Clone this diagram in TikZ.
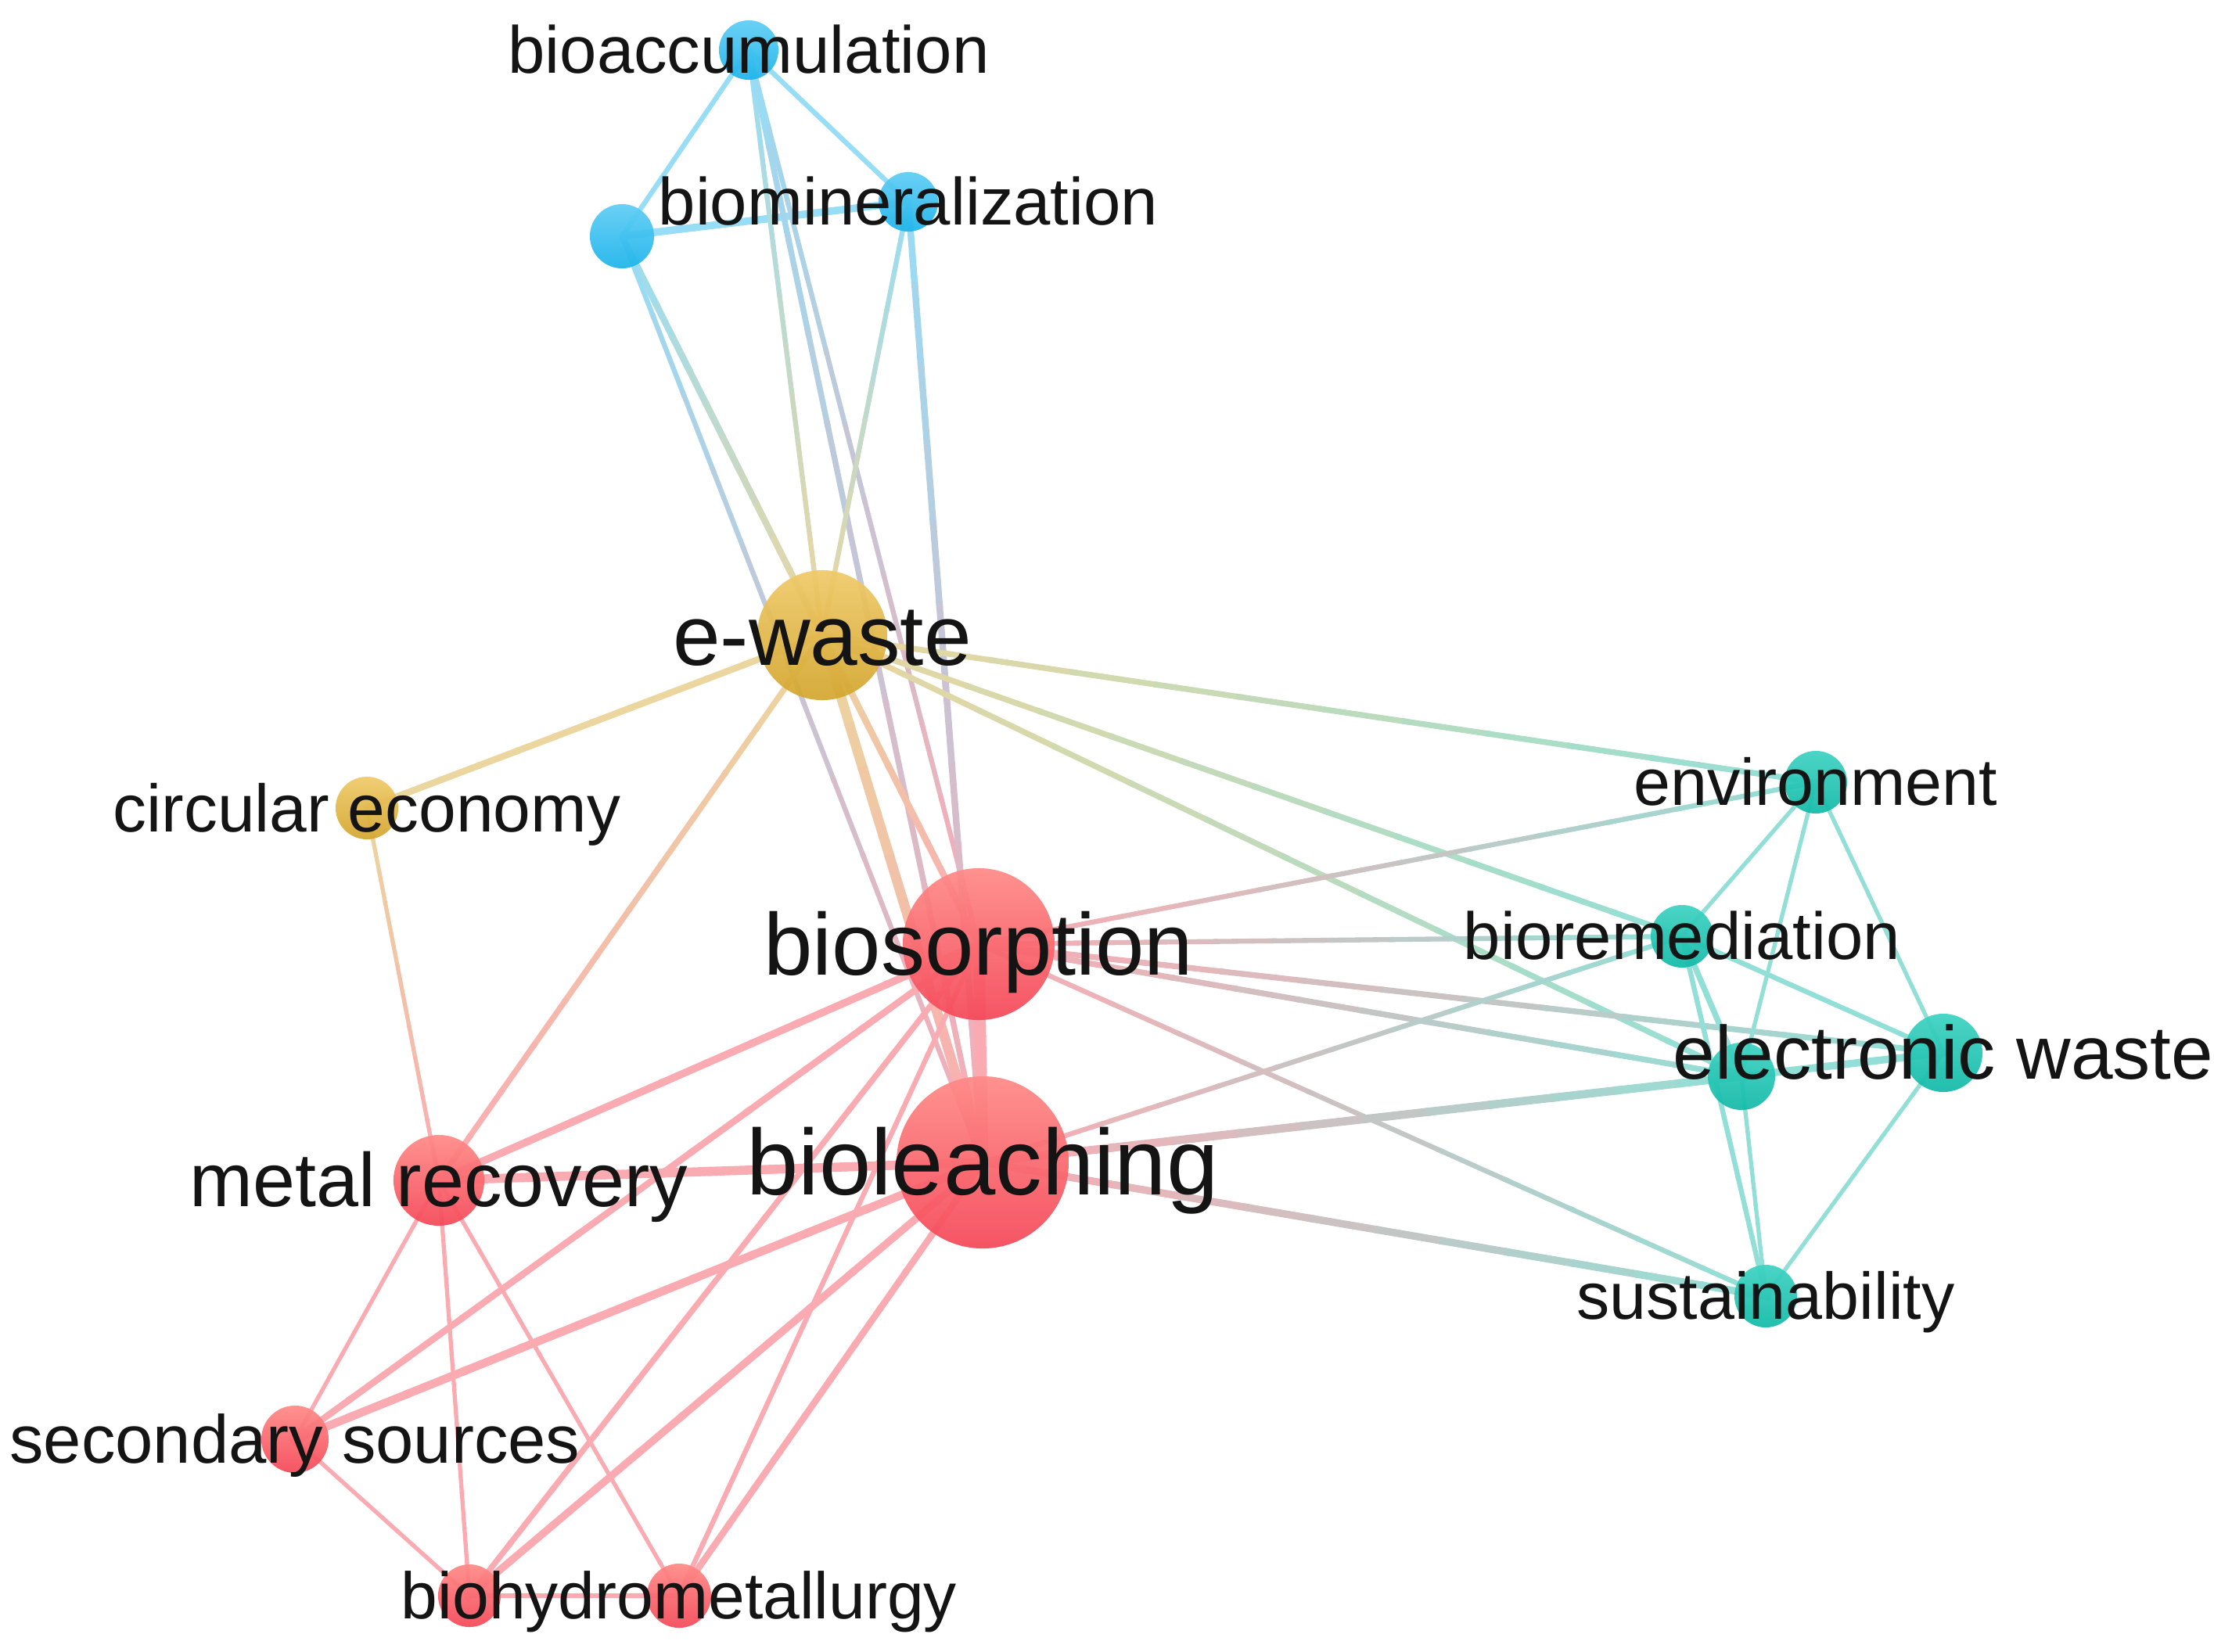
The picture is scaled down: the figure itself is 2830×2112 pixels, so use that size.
\documentclass[tikz,border=0pt]{standalone}
\usepackage{fontspec}
\setmainfont{Liberation Sans}
\usetikzlibrary{calc}
\pgfdeclarelayer{kwbg}
\pgfdeclarelayer{kwedges}
\pgfsetlayers{kwbg,kwedges,main}
\definecolor{bluec}{RGB}{28,180,234}
\definecolor{bluectop}{RGB}{95,205,245}
\definecolor{goldc}{RGB}{212,166,46}
\definecolor{goldctop}{RGB}{240,202,105}
\definecolor{redc}{RGB}{245,72,88}
\definecolor{redctop}{RGB}{255,138,135}
\definecolor{tealc}{RGB}{18,186,168}
\definecolor{tealctop}{RGB}{62,210,194}
\definecolor{labc}{RGB}{20,20,20}
\newcommand\kwnode[5]{\node[kwdot, minimum size=#4*0.02cm, top color=#5top, bottom color=#5] (#1) at (#2,#3) {};}
\newcommand\kwlabel[4]{\node[kwlab, font=\fontsize{#3pt}{#3pt}\selectfont] (#1-lab) at ([yshift=-0.35*#3pt]#2.center) {#4};}
\newcommand\gedge[5]{%
  \foreach \k in {0,...,11}{%
    \pgfmathsetmacro\ss{\k/12}%
    \pgfmathsetmacro\ee{(\k+1.08)/12}%
    \pgfmathsetmacro\mm{100-(\k+0.5)*100/12}%
    \colorlet{ec}{#3!\mm!#4}%
    \draw[kwedge, line width=#5*0.30pt, color=ec!46!white] ($(#1)!\ss!(#2)$) -- ($(#1)!\ee!(#2)$);
  }}
\tikzset{
  kwdot/.style={circle, inner sep=0pt, draw=none, opacity=0.93},
  kwlab/.style={anchor=base, inner sep=0pt, text=labc},
  kwedge/.style={line cap=butt}
}
\begin{document}
\begin{tikzpicture}[x=0.01cm, y=-0.01cm]
\useasboundingbox (0,0) rectangle (2830,2112);
\begin{pgfonlayer}{kwbg}
\fill[white] (0,0) rectangle (2830,2112);
\end{pgfonlayer}
% nodes
\kwnode{A}{957}{64}{38}{bluec}
\kwnode{B}{1161}{258}{38}{bluec}
\kwnode{C}{795}{302}{41}{bluec}
\kwnode{D}{1051}{812}{83}{goldc}
\kwnode{E}{469}{1033}{40}{goldc}
\kwnode{F}{1251}{1207}{97}{redc}
\kwnode{G}{1256}{1486}{110}{redc}
\kwnode{H}{561}{1509}{58}{redc}
\kwnode{I}{377}{1840}{43}{redc}
\kwnode{J}{600}{2040}{40}{redc}
\kwnode{K}{868}{2040}{41}{redc}
\kwnode{L}{2321}{1000}{40}{tealc}
\kwnode{M}{2150}{1197}{40}{tealc}
\kwnode{N}{2226}{1376}{43}{tealc}
\kwnode{O}{2484}{1346}{50}{tealc}
\kwnode{P}{2257}{1657}{40}{tealc}
% edges
\begin{pgfonlayer}{kwedges}
\gedge{A}{C}{bluec}{bluec}{6}
\gedge{A}{B}{bluec}{bluec}{6}
\gedge{C}{B}{bluec}{bluec}{9}
\gedge{C}{D}{bluec}{goldc}{8}
\gedge{C}{G}{bluec}{redc}{6}
\gedge{A}{D}{bluec}{goldc}{6}
\gedge{A}{G}{bluec}{redc}{7}
\gedge{A}{F}{bluec}{redc}{6}
\gedge{B}{D}{bluec}{goldc}{6}
\gedge{B}{G}{bluec}{redc}{8}
\gedge{D}{E}{goldc}{goldc}{8}
\gedge{D}{H}{goldc}{redc}{7}
\gedge{D}{F}{goldc}{redc}{8}
\gedge{D}{G}{goldc}{redc}{12}
\gedge{D}{L}{goldc}{tealc}{7}
\gedge{D}{M}{goldc}{tealc}{7}
\gedge{D}{N}{goldc}{tealc}{7}
\gedge{E}{H}{goldc}{redc}{5}
\gedge{F}{G}{redc}{redc}{14}
\gedge{F}{H}{redc}{redc}{9}
\gedge{F}{I}{redc}{redc}{8}
\gedge{F}{J}{redc}{redc}{7}
\gedge{F}{K}{redc}{redc}{6}
\gedge{G}{H}{redc}{redc}{11}
\gedge{G}{I}{redc}{redc}{10}
\gedge{G}{J}{redc}{redc}{9}
\gedge{G}{K}{redc}{redc}{8}
\gedge{H}{I}{redc}{redc}{5}
\gedge{H}{J}{redc}{redc}{5}
\gedge{H}{K}{redc}{redc}{5}
\gedge{I}{J}{redc}{redc}{5}
\gedge{J}{K}{redc}{redc}{6}
\gedge{F}{L}{redc}{tealc}{6}
\gedge{F}{M}{redc}{tealc}{6}
\gedge{F}{N}{redc}{tealc}{7}
\gedge{F}{O}{redc}{tealc}{7}
\gedge{F}{P}{redc}{tealc}{6}
\gedge{G}{M}{redc}{tealc}{6}
\gedge{G}{N}{redc}{tealc}{10}
\gedge{G}{P}{redc}{tealc}{9}
\gedge{L}{M}{tealc}{tealc}{5}
\gedge{L}{N}{tealc}{tealc}{5}
\gedge{L}{O}{tealc}{tealc}{5}
\gedge{M}{N}{tealc}{tealc}{7}
\gedge{M}{O}{tealc}{tealc}{6}
\gedge{M}{P}{tealc}{tealc}{6}
\gedge{N}{O}{tealc}{tealc}{9}
\gedge{N}{P}{tealc}{tealc}{5}
\gedge{O}{P}{tealc}{tealc}{5}
\end{pgfonlayer}
% labels
\kwlabel{A}{A}{24.2}{bioaccumulation}
\kwlabel{B}{B}{24.2}{biomineralization}
\kwlabel{D}{D}{31}{e-waste}
\kwlabel{E}{E}{24.4}{circular economy}
\kwlabel{F}{F}{31.9}{biosorption}
\kwlabel{G}{G}{33.9}{bioleaching}
\kwlabel{H}{H}{27.6}{metal recovery}
\kwlabel{I}{I}{24.7}{secondary sources}
\kwlabel{K}{K}{23.9}{biohydrometallurgy}
\kwlabel{L}{L}{24}{environment}
\kwlabel{M}{M}{24.2}{bioremediation}
\kwlabel{O}{O}{27.4}{electronic waste}
\kwlabel{P}{P}{24}{sustainability}
\end{tikzpicture}
\end{document}
